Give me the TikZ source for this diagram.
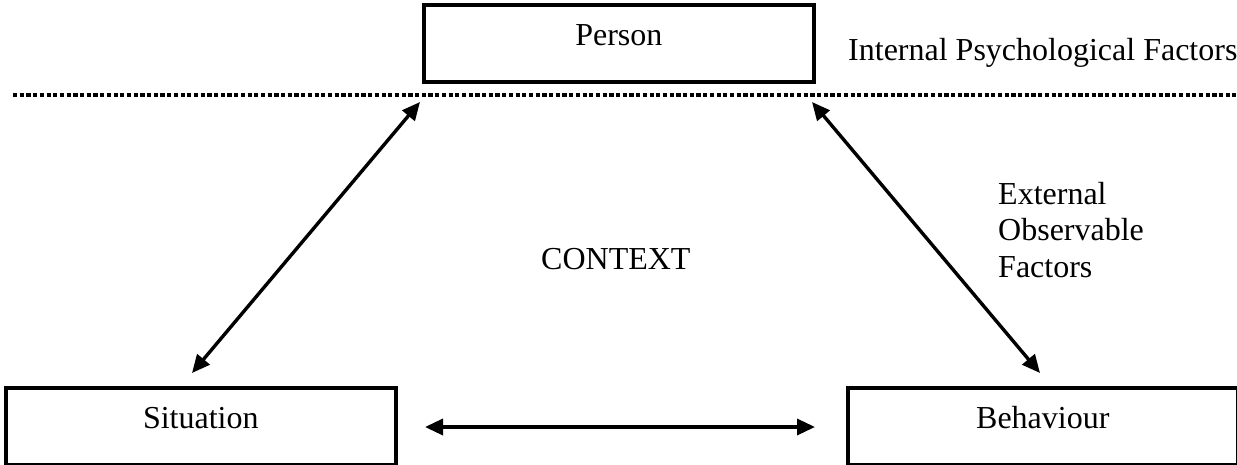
\documentclass[tikz,border=0pt]{standalone}
\usepackage{fontspec}
\setmainfont{Liberation Serif}
\usetikzlibrary{arrows.meta}
\begin{document}
\begin{tikzpicture}[x=1pt,y=-1pt,
  box/.style={draw, line width=3.6pt, minimum width=390pt, minimum height=77pt, inner sep=0pt,
    anchor=north west, text height=22pt, text depth=18pt, font=\fontsize{32}{36.5}\selectfont},
  lbl/.style={inner sep=0pt, font=\fontsize{32}{36.5}\selectfont},
  arr/.style={line width=3.4pt, {Triangle[length=18pt,width=16pt]}-{Triangle[length=18pt,width=16pt]}},
  sepline/.style={line width=3.6pt, dash pattern=on 4.2pt off 2.5pt}]
\useasboundingbox[fill=white] (0,0) rectangle (1237,464);
% boxes
\node[box] (person) at (422,3) {Person};
\node[box] (situation) at (4,386) {Situation};
\node[box] (behaviour) at (846,386) {Behaviour};
% labels
\node[lbl, anchor=base west] (internal) at (848,60) {Internal Psychological Factors};
\node[lbl, anchor=base west] (context) at (541,269) {CONTEXT};
\node[lbl, anchor=north west, align=left] (external) at (998,182) {External\\Observable\\Factors};
% dotted separator
\coordinate (dl) at (13,95);
\coordinate (dr) at (1236,95);
\draw[sepline] (dl) -- (dr);
% arrow end points
\coordinate (pl) at (420,102);
\coordinate (sl) at (192,373);
\coordinate (pr) at (812,102);
\coordinate (br) at (1040,373);
\coordinate (hl) at (425,427);
\coordinate (hr) at (815,427);
\draw[arr] (pl) -- (sl);
\draw[arr] (pr) -- (br);
\draw[arr] (hl) -- (hr);
\end{tikzpicture}
\end{document}
